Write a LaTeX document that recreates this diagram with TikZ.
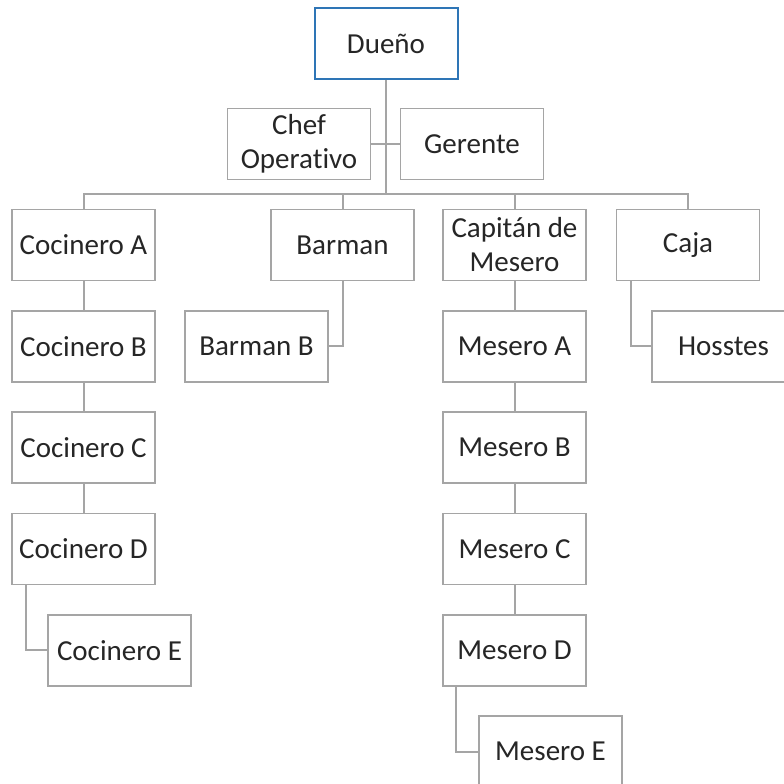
\documentclass[tikz,border=0pt]{standalone}
\usepackage{fontspec}
\setmainfont{Carlito}[Ligatures={NoCommon,NoRequired}]
\usetikzlibrary{
	positioning
}
\definecolor{boxgray}{HTML}{A5A5A5}
\definecolor{ownerblue}{HTML}{2E75B6}
\definecolor{inkgray}{HTML}{262626}
\tikzset{
	puesto/.style={draw=boxgray, line width=1.6pt, fill=white,
		minimum width=143pt, minimum height=71pt, inner sep=2pt,
		align=center, text=inkgray, font=\fontsize{29}{34}\selectfont},
	jefe/.style={puesto, draw=ownerblue, line width=2pt},
	linea/.style={draw=boxgray, line width=2pt}
}

\begin{document}
\begin{tikzpicture}[x=1pt,y=-1pt,node distance=28.7pt]
		\useasboundingbox (0,0) rectangle (784,784);
		\clip (0,0) rectangle (784,784);

		% top
		\node [jefe]   (dueno)   at (386,43.5) {Dueño};
		\node [puesto] (chef)    at (299,144)  {Chef\\Operativo};
		\node [puesto] (gerente) at (472,144)  {Gerente};

		% kitchen
		\node [puesto]                          (cocA) at (83.5,245) {Cocinero A};
		\node [puesto,below=of cocA]            (cocB) {Cocinero B};
		\node [puesto,below=of cocB]            (cocC) {Cocinero C};
		\node [puesto,below=of cocC]            (cocD) {Cocinero D};
		\node [puesto,below=of cocD,xshift=36pt] (cocE) {Cocinero E};

		% bar
		\node [puesto]                             (barman)  at (342.5,245) {Barman};
		\node [puesto,below=of barman,xshift=-86pt] (barmanB) {Barman B};

		% salon
		\node [puesto]                               (capitan) at (514.5,245) {Capitán de\\Mesero};
		\node [puesto,below=of capitan]              (meseroA) {Mesero A};
		\node [puesto,below=of meseroA]              (meseroB) {Mesero B};
		\node [puesto,below=of meseroB]              (meseroC) {Mesero C};
		\node [puesto,below=of meseroC]              (meseroD) {Mesero D};
		\node [puesto,below=of meseroD,xshift=36pt]  (meseroE) {Mesero E};

		% caja
		\node [puesto]                               (caja)    at (688,245) {Caja};
		\node [puesto,below=of caja,xshift=35.5pt]   (hosstes) {Hosstes};

		\coordinate (bus) at (386,194);

		\draw [linea] (dueno) -- (bus);
		\draw [linea] (chef) -- (gerente);
		\draw [linea] (cocA.north) |- (bus) -| (caja.north);
		\draw [linea] (barman.north) -- (barman.north |- bus);
		\draw [linea] (capitan.north) -- (capitan.north |- bus);

		\draw [linea] (cocA) -- (cocB) -- (cocC) -- (cocD);
		\draw [linea] (capitan) -- (meseroA) -- (meseroB) -- (meseroC) -- (meseroD);

		\draw [linea] ([xshift=15pt]cocD.south west)    |- (cocE.west);
		\draw [linea] (barman.south)                    |- (barmanB.east);
		\draw [linea] ([xshift=15pt]caja.south west)    |- (hosstes.west);
		\draw [linea] ([xshift=14pt]meseroD.south west) |- (meseroE.west);
\end{tikzpicture}
\end{document}
